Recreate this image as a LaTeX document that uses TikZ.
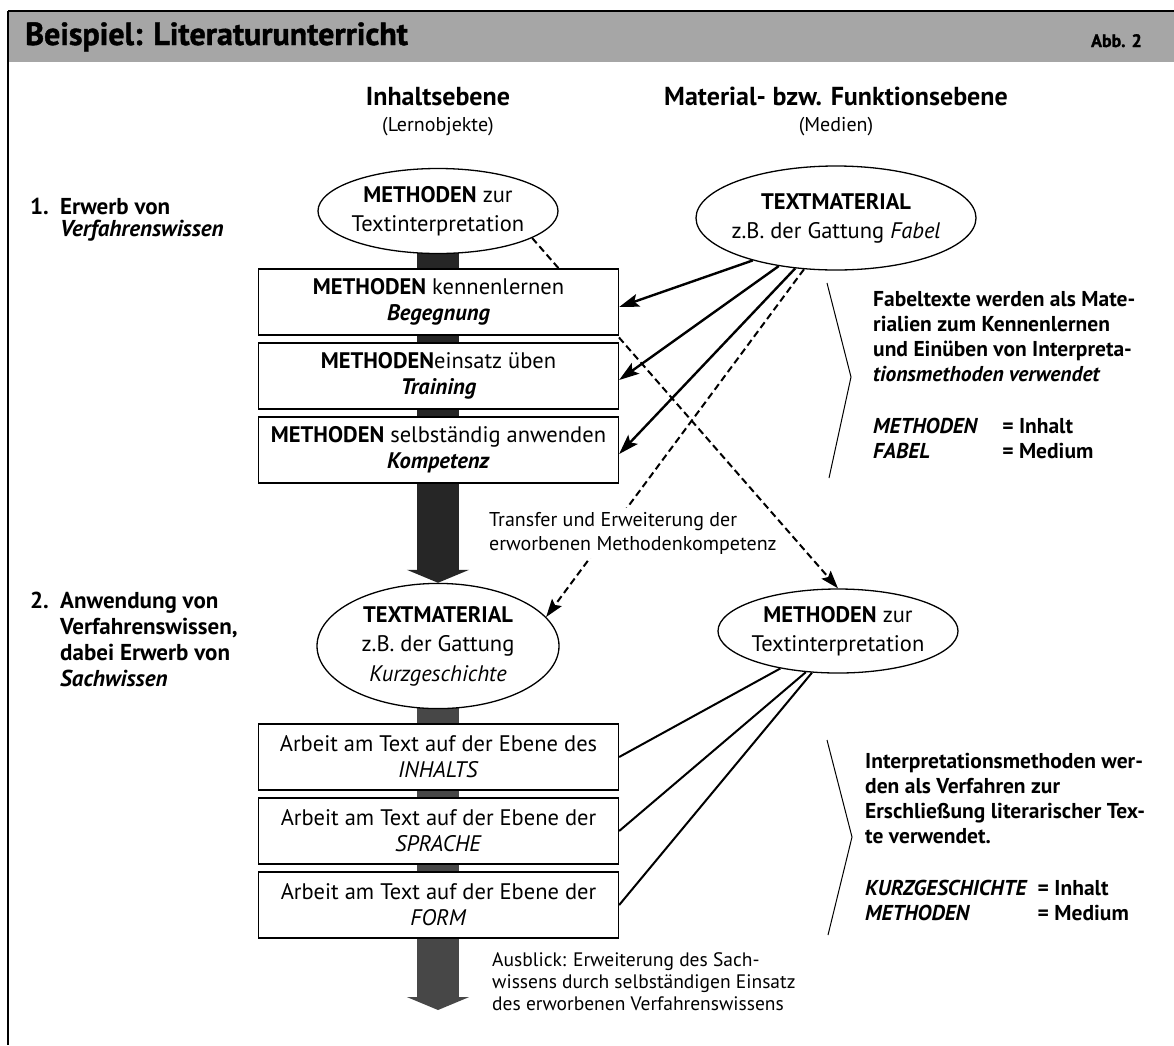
\documentclass[tikz,border=0pt]{standalone}
\usepackage{fontspec}
\setmainfont{PT Sans}
\newfontfamily\heavyfont[BoldFeatures={FakeBold=1.3}]{PT Sans}
\usetikzlibrary{shapes.geometric,arrows.meta}
\pgfdeclarelayer{back}
\pgfdeclarelayer{mid}
\pgfsetlayers{back,mid,main}
% two- or three-line text inside an ellipse, kept out of the shape's size
\newcommand\ovaltext[1]{\makebox[0pt]{\begin{tabular}{@{}c@{}}#1\end{tabular}}}

\begin{document}
\begin{tikzpicture}[x=1pt, y=-1pt,
  stagebox/.style={draw, line width=1.3pt, fill=white, minimum width=360pt,
    minimum height=66pt, inner sep=0pt, align=center,
    font=\fontsize{22.5}{26}\selectfont},
  ovalnode/.style={draw, ellipse, line width=1.3pt, fill=white, inner sep=0pt,
    font=\fontsize{22.5}{29.5}\selectfont},
  colhead/.style={font=\fontsize{26}{30}\selectfont\bfseries, inner sep=0pt, anchor=base},
  colsub/.style={font=\fontsize{20}{24}\selectfont, inner sep=0pt, anchor=base},
  phaselabel/.style={align=left, inner sep=0pt, anchor=north west},
  notetext/.style={font=\fontsize{21.5}{25}\selectfont\bfseries, align=left,
    inner sep=0pt, anchor=north west},
  remarktext/.style={font=\fontsize{20}{24}\selectfont, align=left, anchor=north west},
  feedarrow/.style={line width=2.4pt, -{Stealth[length=20pt,width=13pt,inset=4pt]}},
  transferarrow/.style={line width=2pt, dash pattern=on 7pt off 4pt,
    -{Stealth[length=18pt,width=12pt,inset=3pt]}},
  linkline/.style={line width=2pt},
  flowarrow/.style={line width=42pt, -{Triangle[width=62pt,length=13pt]}},
  bracemark/.style={line width=1pt},
]
\useasboundingbox (0,0) rectangle (1174,1045);

% ---------- page frame and title bar ----------
\begin{pgfonlayer}{back}
  \fill[white] (0,0) rectangle (1174,1045);
  \fill[black!35] (8,11) rectangle (1174,62);
\end{pgfonlayer}
\draw[line width=2.5pt] (8,11) -- (1174,11);
\draw[line width=1.5pt] (8,11) -- (8,1045);
\node[font=\fontsize{32}{36}\selectfont\heavyfont\bfseries, anchor=base west, inner sep=0pt]
  (title) at (25,45) {Beispiel: Literaturunterricht};
\node[font=\fontsize{18}{20}\selectfont\heavyfont\bfseries, anchor=base east, inner sep=0pt]
  (abb) at (1142,47) {Abb. 2};

% ---------- column headings ----------
\node[colhead] (hInhalt) at (438,105) {Inhaltsebene};
\node[colsub] (hLern) at (438,131) {(Lernobjekte)};
\node[colhead] (hMaterial) at (836,105) {Material- bzw. Funktionsebene};
\node[colsub] (hMedien) at (836,131) {(Medien)};

% ---------- phase labels ----------
\node[phaselabel, font=\fontsize{23}{22}\selectfont\bfseries] (phaseA) at (30,198)
  {\makebox[30pt][l]{1.}Erwerb von\\\hspace*{30pt}\textit{Verfahrenswissen}};
\node[phaselabel, font=\fontsize{23}{26}\selectfont\bfseries] (phaseB) at (30,592)
  {\makebox[30pt][l]{2.}Anwendung von\\\hspace*{30pt}Verfahrenswissen,\\
   \hspace*{30pt}dabei Erwerb von\\\hspace*{30pt}\textit{Sachwissen}};

% ---------- phase 1 ----------
\node[ovalnode, minimum width=240pt, minimum height=85pt] (m1) at (438,211)
  {\ovaltext{\textbf{METHODEN} zur\\Textinterpretation}};
\node[ovalnode, minimum width=280pt, minimum height=104pt] (fabel) at (836,218)
  {\ovaltext{\textbf{TEXTMATERIAL}\\z.B. der Gattung \textit{Fabel}}};

\node[stagebox] (b1) at (438.5,302) {\textbf{METHODEN} kennenlernen\\\textbf{\textit{Begegnung}}};
\node[stagebox] (b2) at (438.5,376) {\textbf{METHODEN}einsatz üben\\\textbf{\textit{Training}}};
\node[stagebox] (b3) at (438.5,450) {\textbf{METHODEN} selbständig anwenden\\\textbf{\textit{Kompetenz}}};

\draw[feedarrow] (fabel.207) -- ([yshift=-5pt]b1.east);
\draw[feedarrow] (fabel.220) -- ([yshift=-4pt]b2.east);
\draw[feedarrow] (fabel.231) -- ([yshift=-4pt]b3.east);

\node[notetext] (noteA) at (873,291)
  {Fabeltexte werden als Mate-\\rialien zum Kennenlernen\\und Einüben von Interpreta-\\
   \textit{tionsmethoden verwendet}\\[27pt]
   \begin{tabular}[t]{@{}l@{\hspace{24pt}}l@{}}\textit{METHODEN} & = Inhalt\\
   \textit{FABEL} & = Medium\end{tabular}};
\draw[bracemark] (827,283) -- (851,377) -- (829,478);

% ---------- phase 2 ----------
\node[ovalnode, minimum width=242pt, minimum height=108pt] (kurz) at (438,646)
  {\ovaltext{\textbf{TEXTMATERIAL}\\z.B. der Gattung\\\textit{Kurzgeschichte}}};
\node[ovalnode, minimum width=240pt, minimum height=84pt] (m2) at (838,631)
  {\ovaltext{\textbf{METHODEN} zur\\Textinterpretation}};

\node[stagebox] (c1) at (438.5,757) {Arbeit am Text auf der Ebene des\\\textit{INHALTS}};
\node[stagebox] (c2) at (438.5,831) {Arbeit am Text auf der Ebene der\\\textit{SPRACHE}};
\node[stagebox] (c3) at (438.5,905) {Arbeit am Text auf der Ebene der\\\textit{FORM}};

\draw[linkline] (m2.213) -- (c1.east);
\draw[linkline] (m2.232) -- (c2.east);
\draw[linkline] (m2.238) -- (c3.east);

\node[notetext] (noteB) at (865,753)
  {Interpretationsmethoden wer-\\den als Verfahren zur\\Erschließung literarischer Tex-\\
   te verwendet.\\[27pt]
   \begin{tabular}[t]{@{}l@{\hspace{10pt}}l@{}}\textit{KURZGESCHICHTE} & = Inhalt\\
   \textit{METHODEN} & = Medium\end{tabular}};
\draw[bracemark] (827,740) -- (852,837) -- (828,935);

\node[remarktext, inner sep=0pt, font=\fontsize{19.5}{22}\selectfont] (outlook) at (492,952)
  {Ausblick: Erweiterung des Sach-\\wissens durch selbständigen Einsatz\\des erworbenen Verfahrenswissens};

% ---------- main flow band and transfer links ----------
\coordinate (flowend) at (438,1010);
\begin{pgfonlayer}{back}
  \draw[flowarrow, black!85] (m1.center) -- (kurz.north);
  \draw[flowarrow, black!72] (kurz.center) -- (flowend);
  \draw[transferarrow] (fabel.238) -- (kurz.15);
\end{pgfonlayer}
\begin{pgfonlayer}{mid}
  \node[remarktext, fill=white, inner sep=4pt] (transferlbl) at (485,508)
    {Transfer und Erweiterung der\\erworbenen Methodenkompetenz};
  \draw[transferarrow] (m1.-16) -- (m2.north);
\end{pgfonlayer}
\end{tikzpicture}
\end{document}
